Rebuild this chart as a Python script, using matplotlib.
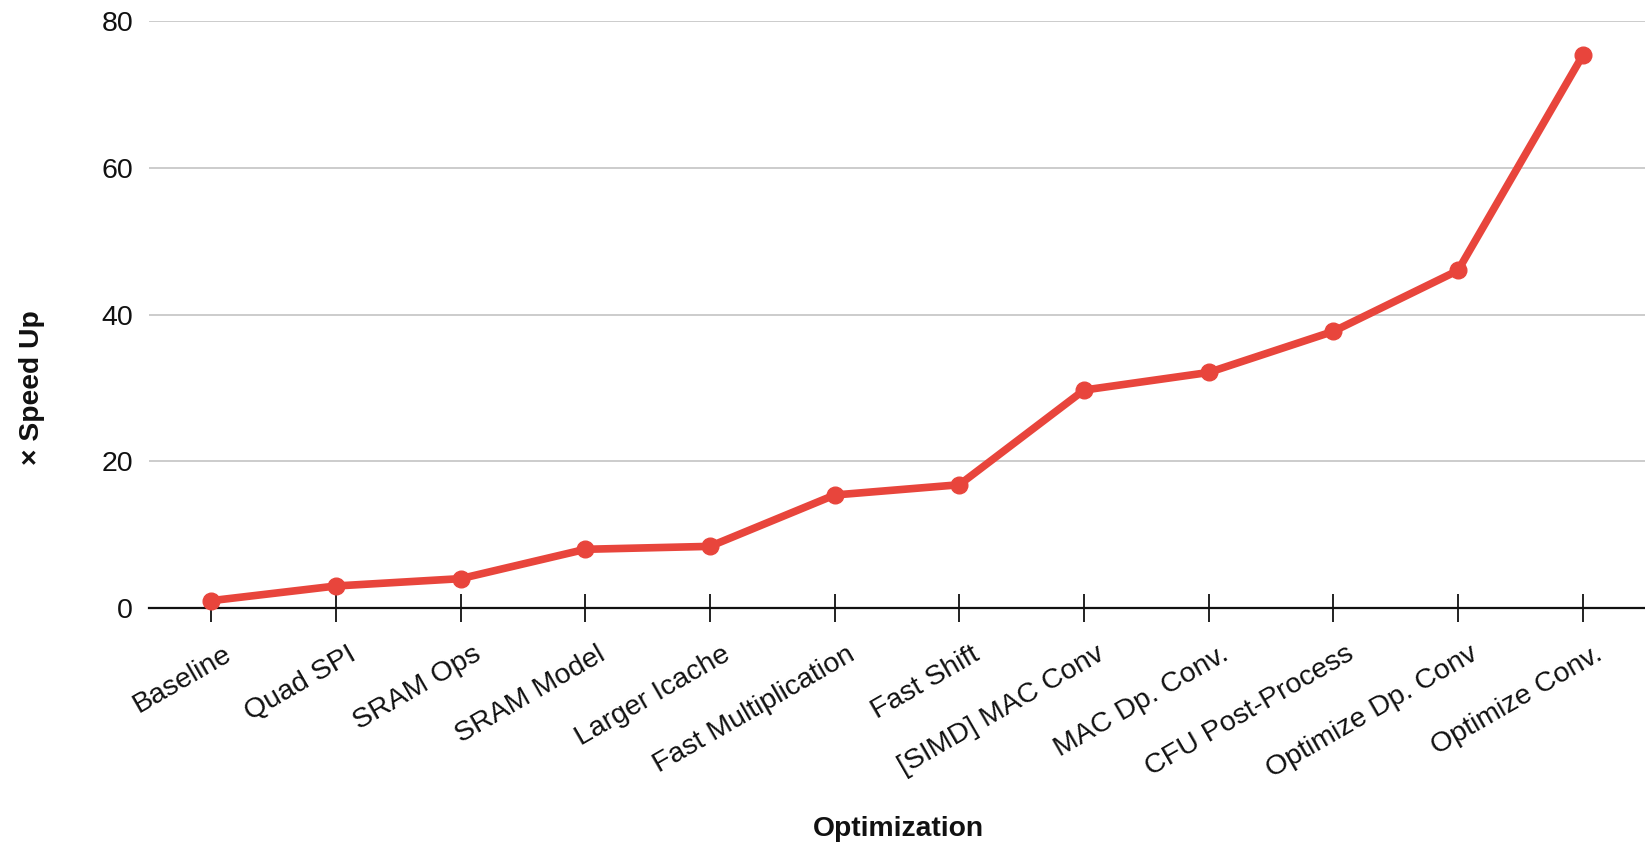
import matplotlib
matplotlib.use("Agg")
import matplotlib.pyplot as plt
from matplotlib.transforms import ScaledTranslation

optimizations = [
    "Baseline", "Quad SPI", "SRAM Ops", "SRAM Model", "Larger Icache",
    "Fast Multiplication", "Fast Shift", "[SIMD] MAC Conv", "MAC Dp. Conv.",
    "CFU Post-Process", "Optimize Dp. Conv", "Optimize Conv.",
]
speedup = [1.0, 3.0, 4.0, 8.0, 8.4, 15.4, 16.8, 29.7, 32.1, 37.7, 46.0, 75.3]
y_ticks = [0, 20, 40, 60, 80]

plt.rcParams["font.family"] = ["Liberation Sans", "DejaVu Sans"]

W, H, DPI = 1645, 846, 100
fig = plt.figure(figsize=(W / DPI, H / DPI), dpi=DPI)
ax = fig.add_axes([149 / W, 1 - 608 / H, 1 - 149 / W, (608 - 21) / H])

x = list(range(len(optimizations)))
ax.plot(x, speedup, color="#E8453C", linewidth=5.5, marker="o", markersize=12,
        solid_capstyle="round", solid_joinstyle="round", zorder=5, clip_on=False)

ax.set_xlim(-0.5, len(optimizations) - 0.5)
ax.set_ylim(0, 80)
ax.set_yticks(y_ticks)
ax.set_yticklabels([str(v) for v in y_ticks], fontsize=20.5, color="#111111")
ax.tick_params(axis="y", length=0, pad=11.5)

ax.set_xticks(x)
ax.set_xticklabels(optimizations, rotation=30, ha="right", va="center",
                   rotation_mode="anchor", fontsize=20.5, color="#111111")
ax.tick_params(axis="x", direction="inout", length=20, width=1.3,
               color="#111111", pad=22)
shift = ScaledTranslation(18 / DPI, 0, fig.dpi_scale_trans)
for lbl in ax.get_xticklabels():
    lbl.set_transform(lbl.get_transform() + shift)

for s in ("top", "right", "left"):
    ax.spines[s].set_visible(False)
ax.spines["bottom"].set_color("#111111")
ax.spines["bottom"].set_linewidth(1.6)
ax.spines["bottom"].set_zorder(3)

for v in y_ticks[1:]:
    ax.axhline(v, color="#cccccc", linewidth=1.4, zorder=1)

fig.text(898 / W, 1 - 829 / H, "Optimization", ha="center", va="center",
         fontsize=20.3, fontweight="bold", color="#111111")
fig.text(32 / W, 1 - 388 / H, "× Speed Up", ha="center", va="center",
         rotation=90, fontsize=20.3, fontweight="bold", color="#111111")

fig.savefig("out.png", dpi=DPI)
